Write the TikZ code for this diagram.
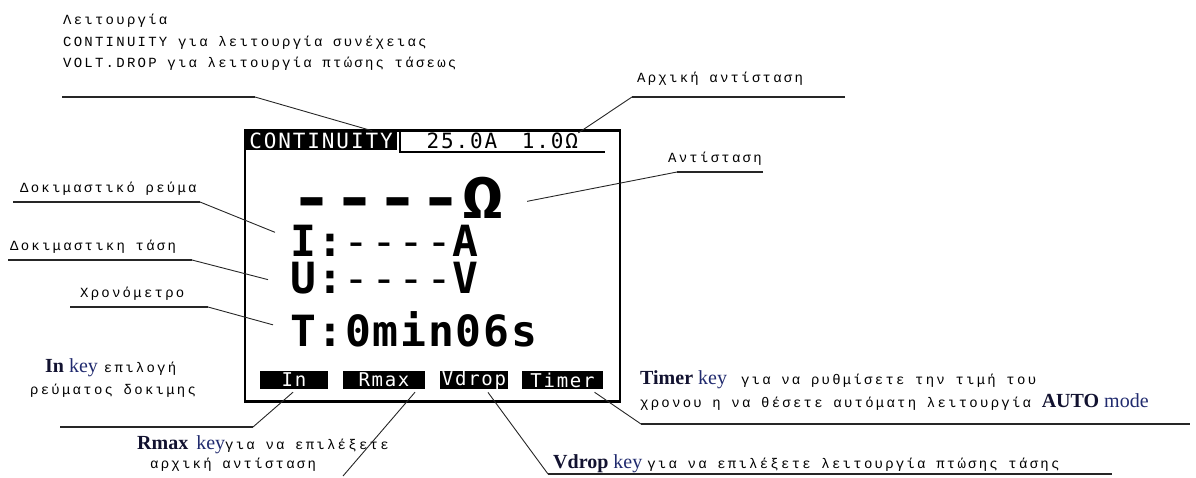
\documentclass[tikz,border=0pt]{standalone}
\usepackage{fontspec}
\setmainfont{Liberation Serif}
\newfontfamily\grk[LetterSpace=16]{Liberation Mono}
\newfontfamily\lcd{DejaVu Sans Mono}
\newfontfamily\lcdw[LetterSpace=9]{DejaVu Sans Mono}
\newfontfamily\lcdt[LetterSpace=4]{DejaVu Sans Mono}
\newfontfamily\keyf{Liberation Serif}
\definecolor{namecol}{RGB}{18,18,48}
\definecolor{keycol}{RGB}{32,42,110}
\newcommand\kname[1]{{\keyf\bfseries\color{namecol}#1}}
\newcommand\kword[1]{{\keyf\color{keycol}#1}}
\newcommand\gtext[1]{{\grk\fontsize{14}{16}\selectfont #1}}
\begin{document}
\begin{tikzpicture}[x=1pt,y=-1pt,
  note/.style={font=\grk\fontsize{14}{16}\selectfont, inner sep=0, anchor=base west},
  keynote/.style={font=\fontsize{20}{22}\selectfont, inner sep=0, anchor=base west},
  lcdbig/.style={font=\lcd\bfseries\fontsize{58}{58}\selectfont, inner sep=0, anchor=base west},
  lcdmid/.style={font=\lcdt\fontsize{43}{43}\selectfont, inner sep=0, anchor=base west},
  lcdsmall/.style={font=\lcdw\fontsize{21}{21}\selectfont, inner sep=0},
  softkey/.style={fill=black, text=white, font=\lcdw\fontsize{19}{19}\selectfont,
    inner sep=0, minimum height=18pt},
  leader/.style={draw=black!85, line width=0.9pt},
  uline/.style={draw=black!85, line width=1.1pt}]
\useasboundingbox (0,0) rectangle (1196,477);

% instrument display
\node[draw, line width=2.6pt, minimum width=375pt, minimum height=271pt, inner sep=0] (scr) at (432.5,266) {};

% header line
\node[fill=black, text=white, font=\lcdw\fontsize{21}{21}\selectfont, inner sep=0,
      minimum width=152pt, minimum height=19pt] (mode) at (321,140.5) {CONTINUITY};
\node[lcdsmall] (icur) at (462,141) {25.0A};
\node[lcdsmall] (rlim) at (550,141) {1.0Ω};
\draw[line width=1.8pt] (400,131) -- (400,152) -- (605,152);

% readings
\node[lcdbig] (ohm) at (290,218) {\scalebox{1.23}[1]{----Ω}};
\node[lcdmid] (cur) at (290,256) {{\bfseries I:}----{\bfseries A}};
\node[lcdmid] (vol) at (290,293) {{\bfseries U:}----{\bfseries V}};
\node[lcdmid, font=\lcdt\bfseries\fontsize{43}{43}\selectfont] (tim) at (290,346) {T:0min06s};

% soft keys
\node[softkey, minimum width=68pt] (bIn) at (294,380) {In};
\node[softkey, minimum width=82pt] (bRmax) at (384,380) {Rmax};
\node[softkey, minimum width=68pt] (bVdrop) at (474,380) {Vdrop};
\node[softkey, minimum width=81pt] (bTimer) at (562.5,380) {Timer};

% annotations
\node[note] (nMode1) at (63,24) {Λειτουργία};
\node[note] (nMode2) at (63,46) {CONTINUITY για λειτουργία συνέχειας};
\node[note] (nMode3) at (63,67) {VOLT.DROP για λειτουργία πτώσης τάσεως};
\node[note] (nRlim) at (637,82) {Αρχική αντίσταση};
\node[note] (nOhm) at (668,162) {Αντίσταση};
\node[note] (nCur) at (20,192) {Δοκιμαστικό ρεύμα};
\node[note] (nVol) at (10,250) {Δοκιμαστικη τάση};
\node[note] (nTim) at (80,297) {Χρονόμετρο};
\node[keynote] (nIn1) at (45,372) {\kname{In} \kword{key}\hspace{6pt}\gtext{επιλογή}};
\node[note] (nIn2) at (30,394) {ρεύματος δοκιμης};
\node[keynote] (nRmax1) at (137,449) {\kname{Rmax}\hspace{8pt}\kword{key}\gtext{για να επιλέξετε}};
\node[note] (nRmax2) at (150,468) {αρχική αντίσταση};
\node[keynote] (nVdrop) at (553,468) {\kname{Vdrop} \kword{key}\hspace{5pt}\gtext{για να επιλέξετε λειτουργία πτώσης τάσης}};
\node[keynote] (nTimer1) at (640,384) {\kname{Timer} \kword{key}\hspace{14pt}\gtext{για να ρυθμίσετε την τιμή του}};
\node[keynote] (nTimer2) at (640,407) {\gtext{χρονου η να θέσετε αυτόματη λειτουργία }\kname{AUTO} \kword{mode}};

% leader lines
\coordinate (m1) at (62,97);   \coordinate (m2) at (255,97);
\draw[uline] (m1) -- (m2);
\draw[leader] (m2) -- ([xshift=-25pt]mode.north east);

\coordinate (r1) at (845,97);  \coordinate (r2) at (632,97);
\draw[uline] (r1) -- (r2);
\draw[leader] (r2) -- (rlim.north east);

\coordinate (o1) at (763,172); \coordinate (o2) at (677,172);
\draw[uline] (o1) -- (o2);
\draw[leader] (o2) -- ([shift={(22,4)}]ohm.east);

\coordinate (c1) at (13,202);  \coordinate (c2) at (200,202);
\draw[uline] (c1) -- (c2);
\draw[leader] (c2) -- ([shift={(-15,-8)}]cur.west);

\coordinate (v1) at (8,260);   \coordinate (v2) at (192,260);
\draw[uline] (v1) -- (v2);
\draw[leader] (v2) -- ([shift={(-22,2)}]vol.west);

\coordinate (t1) at (70,307);  \coordinate (t2) at (208,307);
\draw[uline] (t1) -- (t2);
\draw[leader] (t2) -- ([shift={(-17,-4)}]tim.west);

\coordinate (i1) at (60,427);  \coordinate (i2) at (253,427);
\draw[uline] (i1) -- (i2);
\draw[leader] (i2) -- ([shift={(-1,3)}]bIn.south);

\coordinate (x1) at (343,476);
\draw[leader] ([shift={(31,3)}]bRmax.south) -- (x1);

\coordinate (d1) at (548,474); \coordinate (d2) at (1112,474);
\draw[leader] ([shift={(14,3)}]bVdrop.south) -- (d1);
\draw[uline] (d1) -- (d2);

\coordinate (k1) at (641,424); \coordinate (k2) at (1190,424);
\draw[leader] ([shift={(32,3)}]bTimer.south) -- (k1);
\draw[uline] (k1) -- (k2);
\end{tikzpicture}
\end{document}
